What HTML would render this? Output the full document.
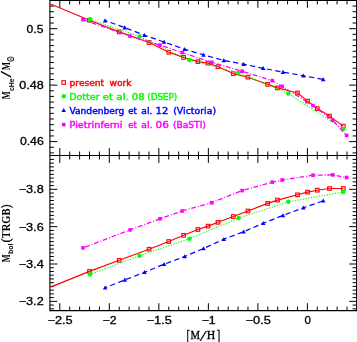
<!DOCTYPE html>
<html><head><meta charset="utf-8"><title>plot</title>
<style>
html,body{margin:0;padding:0;background:#fff;}
body{width:357px;height:342px;overflow:hidden;}
svg{display:block;}
</style></head>
<body>
<svg width="357" height="342" viewBox="0 0 357 342">
<rect width="357" height="342" fill="#fff"/>
<g stroke="#000" fill="none">
<path d="M49.90 0.40 H356.60 M49.90 155.50 H356.60 M49.90 310.60 H356.60" stroke-width="1.10"/>
<path d="M49.90 0.00 V311.35 M356.60 0.00 V311.35" stroke-width="1.10"/>
<path d="M59.80 0.40 v7.40 M59.80 148.10 v14.80 M59.80 310.60 v-7.40 M69.70 0.40 v4.00 M69.70 151.50 v8.00 M69.70 310.60 v-4.00 M79.61 0.40 v4.00 M79.61 151.50 v8.00 M79.61 310.60 v-4.00 M89.51 0.40 v4.00 M89.51 151.50 v8.00 M89.51 310.60 v-4.00 M99.42 0.40 v4.00 M99.42 151.50 v8.00 M99.42 310.60 v-4.00 M109.32 0.40 v7.40 M109.32 148.10 v14.80 M109.32 310.60 v-7.40 M119.22 0.40 v4.00 M119.22 151.50 v8.00 M119.22 310.60 v-4.00 M129.13 0.40 v4.00 M129.13 151.50 v8.00 M129.13 310.60 v-4.00 M139.03 0.40 v4.00 M139.03 151.50 v8.00 M139.03 310.60 v-4.00 M148.94 0.40 v4.00 M148.94 151.50 v8.00 M148.94 310.60 v-4.00 M158.84 0.40 v7.40 M158.84 148.10 v14.80 M158.84 310.60 v-7.40 M168.74 0.40 v4.00 M168.74 151.50 v8.00 M168.74 310.60 v-4.00 M178.65 0.40 v4.00 M178.65 151.50 v8.00 M178.65 310.60 v-4.00 M188.55 0.40 v4.00 M188.55 151.50 v8.00 M188.55 310.60 v-4.00 M198.46 0.40 v4.00 M198.46 151.50 v8.00 M198.46 310.60 v-4.00 M208.36 0.40 v7.40 M208.36 148.10 v14.80 M208.36 310.60 v-7.40 M218.26 0.40 v4.00 M218.26 151.50 v8.00 M218.26 310.60 v-4.00 M228.17 0.40 v4.00 M228.17 151.50 v8.00 M228.17 310.60 v-4.00 M238.07 0.40 v4.00 M238.07 151.50 v8.00 M238.07 310.60 v-4.00 M247.98 0.40 v4.00 M247.98 151.50 v8.00 M247.98 310.60 v-4.00 M257.88 0.40 v7.40 M257.88 148.10 v14.80 M257.88 310.60 v-7.40 M267.78 0.40 v4.00 M267.78 151.50 v8.00 M267.78 310.60 v-4.00 M277.69 0.40 v4.00 M277.69 151.50 v8.00 M277.69 310.60 v-4.00 M287.59 0.40 v4.00 M287.59 151.50 v8.00 M287.59 310.60 v-4.00 M297.50 0.40 v4.00 M297.50 151.50 v8.00 M297.50 310.60 v-4.00 M307.40 0.40 v7.40 M307.40 148.10 v14.80 M307.40 310.60 v-7.40 M317.30 0.40 v4.00 M317.30 151.50 v8.00 M317.30 310.60 v-4.00 M327.21 0.40 v4.00 M327.21 151.50 v8.00 M327.21 310.60 v-4.00 M337.11 0.40 v4.00 M337.11 151.50 v8.00 M337.11 310.60 v-4.00 M347.02 0.40 v4.00 M347.02 151.50 v8.00 M347.02 310.60 v-4.00" stroke-width="1.00"/>
<path d="M49.90 152.88 h4.00 M356.60 152.88 h-4.00 M49.90 147.24 h4.00 M356.60 147.24 h-4.00 M49.90 141.59 h7.40 M356.60 141.59 h-7.40 M49.90 135.94 h4.00 M356.60 135.94 h-4.00 M49.90 130.30 h4.00 M356.60 130.30 h-4.00 M49.90 124.65 h4.00 M356.60 124.65 h-4.00 M49.90 119.01 h4.00 M356.60 119.01 h-4.00 M49.90 113.36 h4.00 M356.60 113.36 h-4.00 M49.90 107.71 h4.00 M356.60 107.71 h-4.00 M49.90 102.07 h4.00 M356.60 102.07 h-4.00 M49.90 96.42 h4.00 M356.60 96.42 h-4.00 M49.90 90.78 h4.00 M356.60 90.78 h-4.00 M49.90 85.13 h7.40 M356.60 85.13 h-7.40 M49.90 79.48 h4.00 M356.60 79.48 h-4.00 M49.90 73.84 h4.00 M356.60 73.84 h-4.00 M49.90 68.19 h4.00 M356.60 68.19 h-4.00 M49.90 62.55 h4.00 M356.60 62.55 h-4.00 M49.90 56.90 h4.00 M356.60 56.90 h-4.00 M49.90 51.25 h4.00 M356.60 51.25 h-4.00 M49.90 45.61 h4.00 M356.60 45.61 h-4.00 M49.90 39.96 h4.00 M356.60 39.96 h-4.00 M49.90 34.32 h4.00 M356.60 34.32 h-4.00 M49.90 28.67 h7.40 M356.60 28.67 h-7.40 M49.90 23.02 h4.00 M356.60 23.02 h-4.00 M49.90 17.38 h4.00 M356.60 17.38 h-4.00 M49.90 11.73 h4.00 M356.60 11.73 h-4.00 M49.90 6.09 h4.00 M356.60 6.09 h-4.00 M49.90 159.42 h4.00 M356.60 159.42 h-4.00 M49.90 163.15 h4.00 M356.60 163.15 h-4.00 M49.90 166.89 h4.00 M356.60 166.89 h-4.00 M49.90 170.62 h4.00 M356.60 170.62 h-4.00 M49.90 174.36 h4.00 M356.60 174.36 h-4.00 M49.90 178.09 h4.00 M356.60 178.09 h-4.00 M49.90 181.83 h4.00 M356.60 181.83 h-4.00 M49.90 185.56 h4.00 M356.60 185.56 h-4.00 M49.90 189.30 h7.40 M356.60 189.30 h-7.40 M49.90 193.04 h4.00 M356.60 193.04 h-4.00 M49.90 196.77 h4.00 M356.60 196.77 h-4.00 M49.90 200.50 h4.00 M356.60 200.50 h-4.00 M49.90 204.24 h4.00 M356.60 204.24 h-4.00 M49.90 207.97 h4.00 M356.60 207.97 h-4.00 M49.90 211.71 h4.00 M356.60 211.71 h-4.00 M49.90 215.44 h4.00 M356.60 215.44 h-4.00 M49.90 219.18 h4.00 M356.60 219.18 h-4.00 M49.90 222.91 h4.00 M356.60 222.91 h-4.00 M49.90 226.65 h7.40 M356.60 226.65 h-7.40 M49.90 230.38 h4.00 M356.60 230.38 h-4.00 M49.90 234.12 h4.00 M356.60 234.12 h-4.00 M49.90 237.85 h4.00 M356.60 237.85 h-4.00 M49.90 241.59 h4.00 M356.60 241.59 h-4.00 M49.90 245.32 h4.00 M356.60 245.32 h-4.00 M49.90 249.06 h4.00 M356.60 249.06 h-4.00 M49.90 252.79 h4.00 M356.60 252.79 h-4.00 M49.90 256.53 h4.00 M356.60 256.53 h-4.00 M49.90 260.26 h4.00 M356.60 260.26 h-4.00 M49.90 264.00 h7.40 M356.60 264.00 h-7.40 M49.90 267.74 h4.00 M356.60 267.74 h-4.00 M49.90 271.47 h4.00 M356.60 271.47 h-4.00 M49.90 275.20 h4.00 M356.60 275.20 h-4.00 M49.90 278.94 h4.00 M356.60 278.94 h-4.00 M49.90 282.68 h4.00 M356.60 282.68 h-4.00 M49.90 286.41 h4.00 M356.60 286.41 h-4.00 M49.90 290.15 h4.00 M356.60 290.15 h-4.00 M49.90 293.88 h4.00 M356.60 293.88 h-4.00 M49.90 297.61 h4.00 M356.60 297.61 h-4.00 M49.90 301.35 h7.40 M356.60 301.35 h-7.40 M49.90 305.08 h4.00 M356.60 305.08 h-4.00 M49.90 308.82 h4.00 M356.60 308.82 h-4.00" stroke-width="1.00"/>
</g>
<polyline points="50.5,4.0 89.5,20.2 119.2,31.9 149.1,42.5 168.8,52.3 183.6,57.4 197.9,61.6 208.1,63.1 218.0,66.7 233.3,73.6 247.9,77.2 267.7,84.4 277.5,87.9 297.5,93.0 307.5,101.1 317.3,108.6 329.5,116.1 343.3,126.1" fill="none" stroke="#ff0000" stroke-width="1.15" stroke-linecap="butt" stroke-linejoin="round"/>
<rect x="87.70" y="18.40" width="3.60" height="3.60" fill="none" stroke="#ff0000" stroke-width="1.1"/>
<rect x="117.40" y="30.10" width="3.60" height="3.60" fill="none" stroke="#ff0000" stroke-width="1.1"/>
<rect x="147.30" y="40.70" width="3.60" height="3.60" fill="none" stroke="#ff0000" stroke-width="1.1"/>
<rect x="167.00" y="50.50" width="3.60" height="3.60" fill="none" stroke="#ff0000" stroke-width="1.1"/>
<rect x="181.80" y="55.60" width="3.60" height="3.60" fill="none" stroke="#ff0000" stroke-width="1.1"/>
<rect x="196.10" y="59.80" width="3.60" height="3.60" fill="none" stroke="#ff0000" stroke-width="1.1"/>
<rect x="206.30" y="61.30" width="3.60" height="3.60" fill="none" stroke="#ff0000" stroke-width="1.1"/>
<rect x="216.20" y="64.90" width="3.60" height="3.60" fill="none" stroke="#ff0000" stroke-width="1.1"/>
<rect x="231.50" y="71.80" width="3.60" height="3.60" fill="none" stroke="#ff0000" stroke-width="1.1"/>
<rect x="246.10" y="75.40" width="3.60" height="3.60" fill="none" stroke="#ff0000" stroke-width="1.1"/>
<rect x="265.90" y="82.60" width="3.60" height="3.60" fill="none" stroke="#ff0000" stroke-width="1.1"/>
<rect x="275.70" y="86.10" width="3.60" height="3.60" fill="none" stroke="#ff0000" stroke-width="1.1"/>
<rect x="295.70" y="91.20" width="3.60" height="3.60" fill="none" stroke="#ff0000" stroke-width="1.1"/>
<rect x="305.70" y="99.30" width="3.60" height="3.60" fill="none" stroke="#ff0000" stroke-width="1.1"/>
<rect x="315.50" y="106.80" width="3.60" height="3.60" fill="none" stroke="#ff0000" stroke-width="1.1"/>
<rect x="327.70" y="114.30" width="3.60" height="3.60" fill="none" stroke="#ff0000" stroke-width="1.1"/>
<rect x="341.50" y="124.30" width="3.60" height="3.60" fill="none" stroke="#ff0000" stroke-width="1.1"/>
<polyline points="90.0,19.3 139.6,36.6 189.4,60.1 238.6,72.6 288.3,93.5 343.2,129.0" fill="none" stroke="#00ff00" stroke-width="1.20" stroke-linecap="round" stroke-linejoin="round" stroke-dasharray="0.2 2.5"/>
<circle cx="90.00" cy="19.30" r="2.25" fill="#00ff00"/>
<circle cx="139.60" cy="36.60" r="2.25" fill="#00ff00"/>
<circle cx="189.40" cy="60.10" r="2.25" fill="#00ff00"/>
<circle cx="238.60" cy="72.60" r="2.25" fill="#00ff00"/>
<circle cx="288.30" cy="93.50" r="2.25" fill="#00ff00"/>
<circle cx="343.20" cy="129.00" r="2.25" fill="#00ff00"/>
<polyline points="105.1,20.6 124.8,27.6 144.5,35.2 164.1,42.0 184.7,49.3 203.5,54.9 223.8,60.4 243.6,64.2 263.2,68.3 283.0,72.1 303.4,75.8 323.2,79.4" fill="none" stroke="#0000ff" stroke-width="1.20" stroke-linecap="butt" stroke-linejoin="round" stroke-dasharray="5.3 3.3" stroke-dashoffset="2.88"/>
<path d="M105.10 18.30 L107.35 22.40 L102.85 22.40 Z" fill="#0000ff"/>
<path d="M124.80 25.30 L127.05 29.40 L122.55 29.40 Z" fill="#0000ff"/>
<path d="M144.50 32.90 L146.75 37.00 L142.25 37.00 Z" fill="#0000ff"/>
<path d="M164.10 39.70 L166.35 43.80 L161.85 43.80 Z" fill="#0000ff"/>
<path d="M184.70 47.00 L186.95 51.10 L182.45 51.10 Z" fill="#0000ff"/>
<path d="M203.50 52.60 L205.75 56.70 L201.25 56.70 Z" fill="#0000ff"/>
<path d="M223.80 58.10 L226.05 62.20 L221.55 62.20 Z" fill="#0000ff"/>
<path d="M243.60 61.90 L245.85 66.00 L241.35 66.00 Z" fill="#0000ff"/>
<path d="M263.20 66.00 L265.45 70.10 L260.95 70.10 Z" fill="#0000ff"/>
<path d="M283.00 69.80 L285.25 73.90 L280.75 73.90 Z" fill="#0000ff"/>
<path d="M303.40 73.50 L305.65 77.60 L301.15 77.60 Z" fill="#0000ff"/>
<path d="M323.20 77.10 L325.45 81.20 L320.95 81.20 Z" fill="#0000ff"/>
<polyline points="83.0,19.7 130.0,36.1 160.0,45.1 182.1,52.6 211.8,62.4 242.1,71.2 272.2,80.6 282.1,86.4 313.0,105.6 332.6,120.2 346.6,135.4" fill="none" stroke="#ff00ff" stroke-width="1.30" stroke-linecap="butt" stroke-linejoin="round" stroke-dasharray="4.7 2 1 1.7"/>
<rect x="81.20" y="17.90" width="3.60" height="3.60" fill="#ff00ff"/>
<rect x="128.20" y="34.30" width="3.60" height="3.60" fill="#ff00ff"/>
<rect x="158.20" y="43.30" width="3.60" height="3.60" fill="#ff00ff"/>
<rect x="180.30" y="50.80" width="3.60" height="3.60" fill="#ff00ff"/>
<rect x="210.00" y="60.60" width="3.60" height="3.60" fill="#ff00ff"/>
<rect x="240.30" y="69.40" width="3.60" height="3.60" fill="#ff00ff"/>
<rect x="270.40" y="78.80" width="3.60" height="3.60" fill="#ff00ff"/>
<rect x="280.30" y="84.60" width="3.60" height="3.60" fill="#ff00ff"/>
<rect x="311.20" y="103.80" width="3.60" height="3.60" fill="#ff00ff"/>
<rect x="330.80" y="118.40" width="3.60" height="3.60" fill="#ff00ff"/>
<rect x="344.80" y="133.60" width="3.60" height="3.60" fill="#ff00ff"/>
<polyline points="50.5,287.1 89.5,271.4 119.2,260.3 149.1,249.2 168.8,241.5 183.6,235.3 197.9,229.5 208.1,226.1 218.0,222.3 233.3,216.5 247.9,211.0 267.7,203.4 277.5,200.1 297.5,194.8 307.5,192.1 317.3,190.2 329.5,188.5 343.3,188.5" fill="none" stroke="#ff0000" stroke-width="1.15" stroke-linecap="butt" stroke-linejoin="round"/>
<rect x="87.70" y="269.60" width="3.60" height="3.60" fill="none" stroke="#ff0000" stroke-width="1.1"/>
<rect x="117.40" y="258.50" width="3.60" height="3.60" fill="none" stroke="#ff0000" stroke-width="1.1"/>
<rect x="147.30" y="247.40" width="3.60" height="3.60" fill="none" stroke="#ff0000" stroke-width="1.1"/>
<rect x="167.00" y="239.70" width="3.60" height="3.60" fill="none" stroke="#ff0000" stroke-width="1.1"/>
<rect x="181.80" y="233.50" width="3.60" height="3.60" fill="none" stroke="#ff0000" stroke-width="1.1"/>
<rect x="196.10" y="227.70" width="3.60" height="3.60" fill="none" stroke="#ff0000" stroke-width="1.1"/>
<rect x="206.30" y="224.30" width="3.60" height="3.60" fill="none" stroke="#ff0000" stroke-width="1.1"/>
<rect x="216.20" y="220.50" width="3.60" height="3.60" fill="none" stroke="#ff0000" stroke-width="1.1"/>
<rect x="231.50" y="214.70" width="3.60" height="3.60" fill="none" stroke="#ff0000" stroke-width="1.1"/>
<rect x="246.10" y="209.20" width="3.60" height="3.60" fill="none" stroke="#ff0000" stroke-width="1.1"/>
<rect x="265.90" y="201.60" width="3.60" height="3.60" fill="none" stroke="#ff0000" stroke-width="1.1"/>
<rect x="275.70" y="198.30" width="3.60" height="3.60" fill="none" stroke="#ff0000" stroke-width="1.1"/>
<rect x="295.70" y="193.00" width="3.60" height="3.60" fill="none" stroke="#ff0000" stroke-width="1.1"/>
<rect x="305.70" y="190.30" width="3.60" height="3.60" fill="none" stroke="#ff0000" stroke-width="1.1"/>
<rect x="315.50" y="188.40" width="3.60" height="3.60" fill="none" stroke="#ff0000" stroke-width="1.1"/>
<rect x="327.70" y="186.70" width="3.60" height="3.60" fill="none" stroke="#ff0000" stroke-width="1.1"/>
<rect x="341.50" y="186.70" width="3.60" height="3.60" fill="none" stroke="#ff0000" stroke-width="1.1"/>
<polyline points="90.0,274.5 139.6,255.7 189.4,238.8 238.6,218.1 288.3,201.8 343.2,192.0" fill="none" stroke="#00ff00" stroke-width="1.20" stroke-linecap="round" stroke-linejoin="round" stroke-dasharray="0.2 2.5"/>
<circle cx="90.00" cy="274.50" r="2.25" fill="#00ff00"/>
<circle cx="139.60" cy="255.70" r="2.25" fill="#00ff00"/>
<circle cx="189.40" cy="238.80" r="2.25" fill="#00ff00"/>
<circle cx="238.60" cy="218.10" r="2.25" fill="#00ff00"/>
<circle cx="288.30" cy="201.80" r="2.25" fill="#00ff00"/>
<circle cx="343.20" cy="192.00" r="2.25" fill="#00ff00"/>
<polyline points="105.1,287.7 124.8,279.9 144.5,272.3 164.1,264.2 184.7,256.5 203.5,248.5 223.8,239.2 243.6,231.7 263.2,223.3 283.0,215.4 303.4,207.8 323.2,200.8" fill="none" stroke="#0000ff" stroke-width="1.20" stroke-linecap="butt" stroke-linejoin="round" stroke-dasharray="5.3 3.3" stroke-dashoffset="3.16"/>
<path d="M105.10 285.40 L107.35 289.50 L102.85 289.50 Z" fill="#0000ff"/>
<path d="M124.80 277.60 L127.05 281.70 L122.55 281.70 Z" fill="#0000ff"/>
<path d="M144.50 270.00 L146.75 274.10 L142.25 274.10 Z" fill="#0000ff"/>
<path d="M164.10 261.90 L166.35 266.00 L161.85 266.00 Z" fill="#0000ff"/>
<path d="M184.70 254.20 L186.95 258.30 L182.45 258.30 Z" fill="#0000ff"/>
<path d="M203.50 246.20 L205.75 250.30 L201.25 250.30 Z" fill="#0000ff"/>
<path d="M223.80 236.90 L226.05 241.00 L221.55 241.00 Z" fill="#0000ff"/>
<path d="M243.60 229.40 L245.85 233.50 L241.35 233.50 Z" fill="#0000ff"/>
<path d="M263.20 221.00 L265.45 225.10 L260.95 225.10 Z" fill="#0000ff"/>
<path d="M283.00 213.10 L285.25 217.20 L280.75 217.20 Z" fill="#0000ff"/>
<path d="M303.40 205.50 L305.65 209.60 L301.15 209.60 Z" fill="#0000ff"/>
<path d="M323.20 198.50 L325.45 202.60 L320.95 202.60 Z" fill="#0000ff"/>
<polyline points="83.0,247.9 130.0,229.9 160.0,218.8 182.1,211.0 211.8,202.7 242.1,190.6 272.2,182.2 282.1,180.0 313.0,175.2 332.6,174.9 346.6,177.5" fill="none" stroke="#ff00ff" stroke-width="1.30" stroke-linecap="butt" stroke-linejoin="round" stroke-dasharray="4.7 2 1 1.7" stroke-dashoffset="6.94"/>
<rect x="81.20" y="246.10" width="3.60" height="3.60" fill="#ff00ff"/>
<rect x="128.20" y="228.10" width="3.60" height="3.60" fill="#ff00ff"/>
<rect x="158.20" y="217.00" width="3.60" height="3.60" fill="#ff00ff"/>
<rect x="180.30" y="209.20" width="3.60" height="3.60" fill="#ff00ff"/>
<rect x="210.00" y="200.90" width="3.60" height="3.60" fill="#ff00ff"/>
<rect x="240.30" y="188.80" width="3.60" height="3.60" fill="#ff00ff"/>
<rect x="270.40" y="180.40" width="3.60" height="3.60" fill="#ff00ff"/>
<rect x="280.30" y="178.20" width="3.60" height="3.60" fill="#ff00ff"/>
<rect x="311.20" y="173.40" width="3.60" height="3.60" fill="#ff00ff"/>
<rect x="330.80" y="173.10" width="3.60" height="3.60" fill="#ff00ff"/>
<rect x="344.80" y="175.70" width="3.60" height="3.60" fill="#ff00ff"/>
<g style="font-family:'Liberation Sans',Arial,sans-serif;font-size:10.40px;font-weight:normal" fill="#000" stroke="#000" stroke-width="0.30">
<text x="47.50" y="324.30" textLength="25.20" lengthAdjust="spacingAndGlyphs">−2.5</text>
<text x="102.62" y="324.30" textLength="14.00" lengthAdjust="spacingAndGlyphs">−2</text>
<text x="146.54" y="324.30" textLength="25.20" lengthAdjust="spacingAndGlyphs">−1.5</text>
<text x="201.66" y="324.30" textLength="14.00" lengthAdjust="spacingAndGlyphs">−1</text>
<text x="245.58" y="324.30" textLength="25.20" lengthAdjust="spacingAndGlyphs">−0.5</text>
<text x="304.50" y="324.30" textLength="6.40" lengthAdjust="spacingAndGlyphs">0</text>
<text x="26.60" y="32.87" textLength="16.80" lengthAdjust="spacingAndGlyphs">0.5</text>
<text x="19.30" y="88.73" textLength="24.40" lengthAdjust="spacingAndGlyphs">0.48</text>
<text x="19.90" y="145.19" textLength="23.80" lengthAdjust="spacingAndGlyphs">0.46</text>
<text x="18.70" y="193.30" textLength="25.00" lengthAdjust="spacingAndGlyphs">−3.8</text>
<text x="18.70" y="230.65" textLength="25.00" lengthAdjust="spacingAndGlyphs">−3.6</text>
<text x="18.70" y="268.00" textLength="25.00" lengthAdjust="spacingAndGlyphs">−3.4</text>
<text x="18.70" y="305.35" textLength="25.00" lengthAdjust="spacingAndGlyphs">−3.2</text>
</g>
<text stroke="#000" stroke-width="0.30" x="186.60" y="340.10" textLength="3.40" lengthAdjust="spacingAndGlyphs" style="font-family:'Liberation Serif','Times New Roman',serif;font-size:14.00px;font-weight:normal">[</text>
<text stroke="#000" stroke-width="0.30" x="190.60" y="339.30" textLength="9.50" lengthAdjust="spacingAndGlyphs" style="font-family:'Liberation Serif','Times New Roman',serif;font-size:12.00px;font-weight:normal">M</text>
<text stroke="#000" stroke-width="0.05" x="199.50" y="341.20" textLength="7.40" lengthAdjust="spacingAndGlyphs" style="font-family:'Liberation Serif','Times New Roman',serif;font-size:15.00px;font-weight:normal">/</text>
<text stroke="#000" stroke-width="0.30" x="206.70" y="339.30" textLength="8.50" lengthAdjust="spacingAndGlyphs" style="font-family:'Liberation Serif','Times New Roman',serif;font-size:12.00px;font-weight:normal">H</text>
<text stroke="#000" stroke-width="0.30" x="216.70" y="340.10" textLength="3.50" lengthAdjust="spacingAndGlyphs" style="font-family:'Liberation Serif','Times New Roman',serif;font-size:14.00px;font-weight:normal">]</text>
<g transform="translate(10.00,99.50) rotate(-90)">
<text x="0.20" y="0.00" textLength="7.90" lengthAdjust="spacingAndGlyphs" style="font-family:'Liberation Serif','Times New Roman',serif;font-size:11.90px;font-weight:bold">M</text>
<text x="8.40" y="3.60" textLength="12.80" lengthAdjust="spacingAndGlyphs" style="font-family:'Liberation Sans',Arial,sans-serif;font-size:7.20px;font-weight:bold">cHe</text>
<text x="22.00" y="1.40" textLength="6.40" lengthAdjust="spacingAndGlyphs" stroke="#000" stroke-width="0.30" style="font-family:'Liberation Serif','Times New Roman',serif;font-size:15.00px;font-weight:normal">/</text>
<text x="29.50" y="0.00" textLength="7.90" lengthAdjust="spacingAndGlyphs" style="font-family:'Liberation Serif','Times New Roman',serif;font-size:11.90px;font-weight:bold">M</text>
<text x="37.50" y="4.40" textLength="5.90" lengthAdjust="spacingAndGlyphs" stroke="#000" stroke-width="0.25" style="font-family:'DejaVu Sans',sans-serif;font-size:10.50px;font-weight:normal">⊙</text>
</g>
<g transform="translate(9.70,262.60) rotate(-90)">
<text x="0.30" y="0.00" textLength="8.10" lengthAdjust="spacingAndGlyphs" style="font-family:'Liberation Serif','Times New Roman',serif;font-size:11.90px;font-weight:bold">M</text>
<text x="8.70" y="3.00" textLength="10.40" lengthAdjust="spacingAndGlyphs" style="font-family:'Liberation Sans',Arial,sans-serif;font-size:6.60px;font-weight:bold">bol</text>
<text x="20.00" y="0.00" textLength="4.10" lengthAdjust="spacingAndGlyphs" stroke="#000" stroke-width="0.30" style="font-family:'Liberation Serif','Times New Roman',serif;font-size:13.00px;font-weight:normal">(</text>
<text x="24.30" y="0.00" textLength="29.80" lengthAdjust="spacingAndGlyphs" style="font-family:'Liberation Serif','Times New Roman',serif;font-size:11.90px;font-weight:bold">TRGB</text>
<text x="54.70" y="0.00" textLength="3.50" lengthAdjust="spacingAndGlyphs" stroke="#000" stroke-width="0.30" style="font-family:'Liberation Serif','Times New Roman',serif;font-size:13.00px;font-weight:normal">)</text>
</g>
<rect x="61.90" y="80.70" width="3.60" height="3.60" fill="none" stroke="#ff0000" stroke-width="1.1"/>
<text x="69.60" y="85.80" fill="#ff0000" stroke="#ff0000" stroke-width="0.40" textLength="34.60" lengthAdjust="spacingAndGlyphs" style="font-family:'DejaVu Sans',sans-serif;font-size:8.60px;font-weight:normal">present</text>
<text x="109.40" y="85.80" fill="#ff0000" stroke="#ff0000" stroke-width="0.40" textLength="22.20" lengthAdjust="spacingAndGlyphs" style="font-family:'DejaVu Sans',sans-serif;font-size:8.60px;font-weight:normal">work</text>
<circle cx="63.70" cy="96.20" r="2.25" fill="#00ff00"/>
<text x="69.20" y="99.90" fill="#00ff00" stroke="#00ff00" stroke-width="0.40" textLength="30.40" lengthAdjust="spacingAndGlyphs" style="font-family:'DejaVu Sans',sans-serif;font-size:8.60px;font-weight:normal">Dotter</text>
<text x="102.80" y="99.90" fill="#00ff00" stroke="#00ff00" stroke-width="0.40" textLength="10.20" lengthAdjust="spacingAndGlyphs" style="font-family:'DejaVu Sans',sans-serif;font-size:8.60px;font-weight:normal">et</text>
<text x="116.30" y="99.90" fill="#00ff00" stroke="#00ff00" stroke-width="0.40" textLength="12.70" lengthAdjust="spacingAndGlyphs" style="font-family:'DejaVu Sans',sans-serif;font-size:8.60px;font-weight:normal">al.</text>
<text x="131.80" y="99.90" fill="#00ff00" stroke="#00ff00" stroke-width="0.40" textLength="12.80" lengthAdjust="spacingAndGlyphs" style="font-family:'DejaVu Sans',sans-serif;font-size:8.60px;font-weight:normal">08</text>
<text x="147.30" y="99.90" fill="#00ff00" stroke="#00ff00" stroke-width="0.40" textLength="30.00" lengthAdjust="spacingAndGlyphs" style="font-family:'DejaVu Sans',sans-serif;font-size:8.60px;font-weight:normal">(DSEP)</text>
<path d="M63.70 107.90 L65.95 112.00 L61.45 112.00 Z" fill="#0000ff"/>
<text x="69.40" y="114.00" fill="#0000ff" stroke="#0000ff" stroke-width="0.40" textLength="55.00" lengthAdjust="spacingAndGlyphs" style="font-family:'DejaVu Sans',sans-serif;font-size:8.60px;font-weight:normal">Vandenberg</text>
<text x="128.20" y="114.00" fill="#0000ff" stroke="#0000ff" stroke-width="0.40" textLength="8.70" lengthAdjust="spacingAndGlyphs" style="font-family:'DejaVu Sans',sans-serif;font-size:8.60px;font-weight:normal">et</text>
<text x="141.30" y="114.00" fill="#0000ff" stroke="#0000ff" stroke-width="0.40" textLength="11.10" lengthAdjust="spacingAndGlyphs" style="font-family:'DejaVu Sans',sans-serif;font-size:8.60px;font-weight:normal">al.</text>
<text x="155.60" y="114.00" fill="#0000ff" stroke="#0000ff" stroke-width="0.40" textLength="12.80" lengthAdjust="spacingAndGlyphs" style="font-family:'DejaVu Sans',sans-serif;font-size:8.60px;font-weight:normal">12</text>
<text x="173.20" y="114.00" fill="#0000ff" stroke="#0000ff" stroke-width="0.40" textLength="42.90" lengthAdjust="spacingAndGlyphs" style="font-family:'DejaVu Sans',sans-serif;font-size:8.60px;font-weight:normal">(Victoria)</text>
<rect x="61.90" y="122.80" width="3.60" height="3.60" fill="#ff00ff"/>
<text x="69.50" y="128.10" fill="#ff00ff" stroke="#ff00ff" stroke-width="0.40" textLength="52.90" lengthAdjust="spacingAndGlyphs" style="font-family:'DejaVu Sans',sans-serif;font-size:8.60px;font-weight:normal">Pietrinferni</text>
<text x="128.20" y="128.10" fill="#ff00ff" stroke="#ff00ff" stroke-width="0.40" textLength="8.70" lengthAdjust="spacingAndGlyphs" style="font-family:'DejaVu Sans',sans-serif;font-size:8.60px;font-weight:normal">et</text>
<text x="141.30" y="128.10" fill="#ff00ff" stroke="#ff00ff" stroke-width="0.40" textLength="11.10" lengthAdjust="spacingAndGlyphs" style="font-family:'DejaVu Sans',sans-serif;font-size:8.60px;font-weight:normal">al.</text>
<text x="155.60" y="128.10" fill="#ff00ff" stroke="#ff00ff" stroke-width="0.40" textLength="13.30" lengthAdjust="spacingAndGlyphs" style="font-family:'DejaVu Sans',sans-serif;font-size:8.60px;font-weight:normal">06</text>
<text x="172.90" y="128.10" fill="#ff00ff" stroke="#ff00ff" stroke-width="0.40" textLength="33.00" lengthAdjust="spacingAndGlyphs" style="font-family:'DejaVu Sans',sans-serif;font-size:8.60px;font-weight:normal">(BaSTI)</text>
</svg>
</body></html>
